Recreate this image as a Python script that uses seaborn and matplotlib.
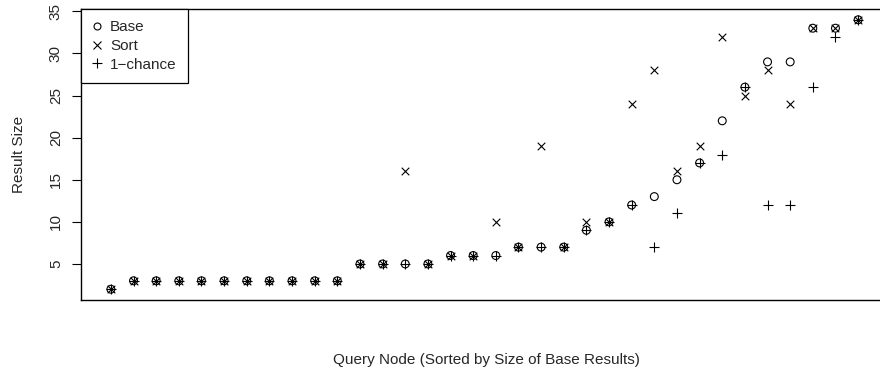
import numpy as np
import pandas as pd
import matplotlib
matplotlib.use("Agg")
import matplotlib.pyplot as plt
from matplotlib.lines import Line2D
import seaborn as sns

# ---- data ----
node = list(range(1, 35))
base = [2, 3, 3, 3, 3, 3, 3, 3, 3, 3, 3, 5, 5, 5, 5, 6, 6, 6, 7, 7, 7, 9, 10, 12,
        13, 15, 17, 22, 26, 29, 29, 33, 33, 34]
sort_ = [2, 3, 3, 3, 3, 3, 3, 3, 3, 3, 3, 5, 5, 16, 5, 6, 6, 10, 7, 19, 7, 10, 10, 24,
         28, 16, 19, 32, 25, 28, 24, 33, 33, 34]
chance = [2, 3, 3, 3, 3, 3, 3, 3, 3, 3, 3, 5, 5, 5, 5, 6, 6, 6, 7, 7, 7, 9, 10, 12,
          7, 11, 17, 18, 26, 12, 12, 26, 32, 34]
series_names = ["Base", "Sort", "1\u2212chance"]
y_ticks = [5, 10, 15, 20, 25, 30, 35]

df = pd.DataFrame({"node": node, "Base": base, "Sort": sort_, "Chance": chance})

sns.set_style("white")
plt.rcParams["font.family"] = ["Liberation Sans", "DejaVu Sans"]

fig = plt.figure(figsize=(8.8, 3.79), dpi=100)
W, H = 880, 379
left, right, top, bottom = 81, 888, 9, 300
ax = fig.add_axes([left / W, (H - bottom) / H, (right - left) / W, (bottom - top) / H])

lw = 0.8
sns.scatterplot(data=df, x="node", y="Base", ax=ax, marker="o", s=32,
                facecolors="none", edgecolors="black", linewidths=lw, legend=False)
sns.scatterplot(data=df, x="node", y="Sort", ax=ax, marker="x", s=30,
                color="black", linewidths=lw, legend=False)
sns.scatterplot(data=df, x="node", y="Chance", ax=ax, marker="+", s=60,
                color="black", linewidths=lw, legend=False)

ax.set_xlim(1 - 0.04 * 33, 34 + 0.04 * 33)
ax.set_ylim(2 - 0.04 * 32, 34 + 0.04 * 32)
ax.set_xticks([])
ax.set_yticks(y_ticks)
ax.set_yticklabels([str(t) for t in y_ticks], rotation=90, va="center", fontsize=11)
ax.tick_params(axis="y", direction="out", length=6.5, width=0.8, pad=6.5, left=True, color="black")
for sp in ax.spines.values():
    sp.set_visible(True)
    sp.set_color("black")
    sp.set_linewidth(1.0)

ax.set_ylabel("")
ax.set_xlabel("")
fig.text(19 / W, (H - 154) / H, "Result Size", rotation=90, ha="center", va="center", fontsize=11)
fig.text(486 / W, (H - 360) / H, "Query Node (Sorted by Size of Base Results)",
         ha="center", va="center", fontsize=11)

handles = [
    Line2D([], [], linestyle="none", marker="o", markersize=5, markerfacecolor="none",
           markeredgecolor="black", markeredgewidth=lw),
    Line2D([], [], linestyle="none", marker="x", markersize=5.5, color="black", markeredgewidth=lw),
    Line2D([], [], linestyle="none", marker="+", markersize=7.5, color="black", markeredgewidth=lw),
]
leg = ax.legend(handles, series_names, loc="upper left", borderaxespad=0, fontsize=11,
                frameon=True, fancybox=False, edgecolor="black", framealpha=1,
                handlelength=0.6, handletextpad=0.55, labelspacing=0.3, borderpad=0.75)
leg.get_frame().set_linewidth(0.9)

fig.savefig("out.png", dpi=100)
